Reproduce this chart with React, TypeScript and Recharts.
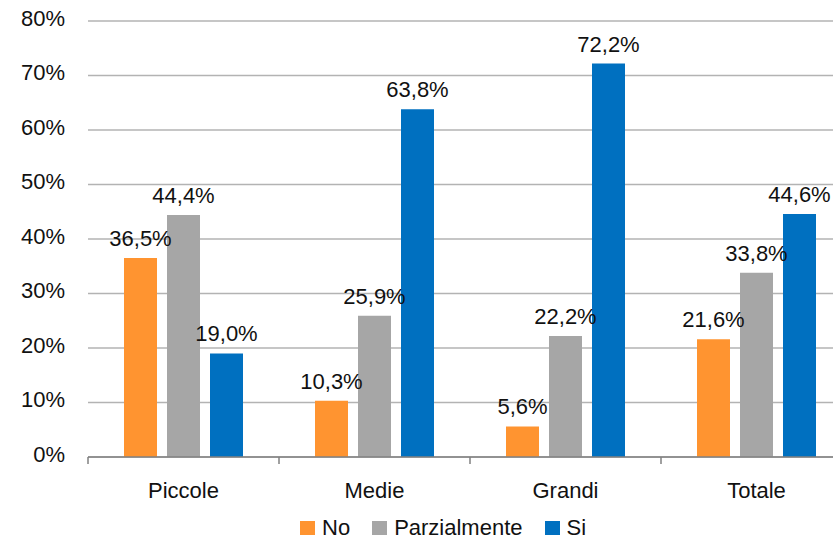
import React from "react";
import { BarChart, Bar, XAxis, YAxis, CartesianGrid, Legend, LabelList } from "recharts";

const categories = ["Piccole", "Medie", "Grandi", "Totale"];
const noValues = [36.5, 10.3, 5.6, 21.6];
const parzValues = [44.4, 25.9, 22.2, 33.8];
const siValues = [19.0, 63.8, 72.2, 44.6];
const yTicks = [0, 10, 20, 30, 40, 50, 60, 70, 80];

const series = [
  { key: "no", name: "No", color: "#ff9430" },
  { key: "parz", name: "Parzialmente", color: "#a6a6a6" },
  { key: "si", name: "Si", color: "#0070c0" },
];

const data = categories.map((c, i) => ({
  cat: c,
  no: noValues[i],
  parz: parzValues[i],
  si: siValues[i],
}));

const FONT = "'Liberation Sans', Arial, sans-serif";
const fmt = (v: number) => v.toFixed(1).replace(".", ",") + "%";

function CatTick(props: any) {
  const { x, y, payload } = props;
  const half = payload.offset || 0;
  return (
    <g>
      <line x1={x - half} x2={x - half} y1={y - 25} y2={y - 18} stroke="#808080" strokeWidth={1.5} />
      <text x={x} y={y} textAnchor="middle" dy="0.71em" fontSize={22} fill="#111" fontFamily={FONT}>
        {payload.value}
      </text>
    </g>
  );
}

function LegendBox() {
  return (
    <div style={{ height: 38, display: "flex", alignItems: "flex-end", paddingLeft: 300, fontFamily: FONT, fontSize: 22, color: "#111" }}>
      {series.map((s) => (
        <div key={s.key} style={{ display: "flex", alignItems: "center", marginRight: 22, lineHeight: "22px", paddingBottom: 1 }}>
          <span style={{ width: 15, height: 14, background: s.color, display: "inline-block", marginRight: 7 }} />
          <span>{s.name}</span>
        </div>
      ))}
    </div>
  );
}

export default function App() {
  return (
    <div style={{ position: "fixed", left: 0, top: 0, width: 833, height: 540, overflow: "hidden", background: "#fff" }}>
      <BarChart
        width={870}
        height={540}
        data={data}
        margin={{ top: 21, right: 18, left: 0, bottom: 0 }}
        barSize={33}
        barGap={10}
      >
        <CartesianGrid vertical={false} stroke="#b3b3b3" strokeWidth={1.5} />
        <XAxis
          dataKey="cat"
          height={45}
          axisLine={{ stroke: "#808080", strokeWidth: 1.5 }}
          tickLine={false}
          tickSize={0}
          tickMargin={25}
          tick={<CatTick />}
          interval={0}
        />
        <YAxis
          width={88}
          domain={[0, 80]}
          ticks={yTicks}
          axisLine={false}
          tickLine={false}
          tickSize={6}
          tickMargin={17}
          tickFormatter={(v: number) => `${v}%`}
          tick={{ fontSize: 22, fill: "#111", fontFamily: FONT, dy: -3 }}
        />
        <Legend verticalAlign="bottom" height={38} content={<LegendBox />} />
        {series.map((s) => (
          <Bar key={s.key} dataKey={s.key} name={s.name} fill={s.color} isAnimationActive={false}>
            <LabelList
              dataKey={s.key}
              position="top"
              offset={12}
              formatter={(v: any) => fmt(Number(v))}
              style={{ fontSize: 22, fill: "#111", fontFamily: FONT }}
            />
          </Bar>
        ))}
      </BarChart>
    </div>
  );
}
